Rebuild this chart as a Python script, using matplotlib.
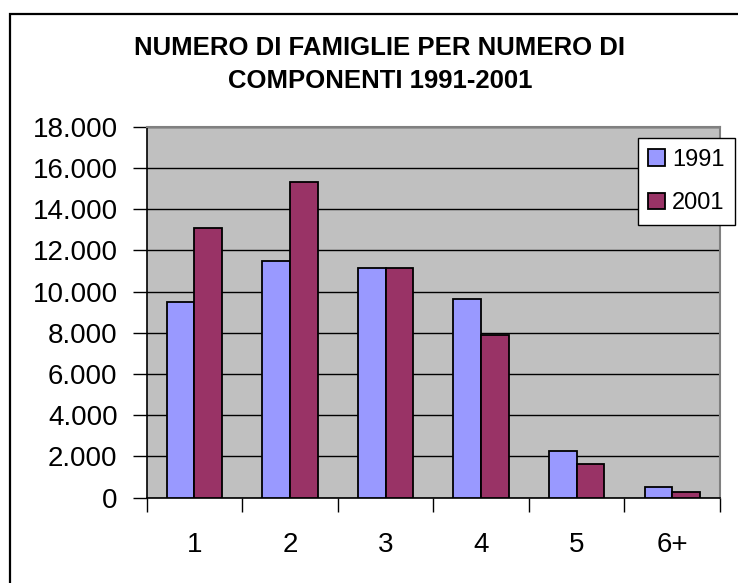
import matplotlib
matplotlib.use("Agg")
import matplotlib.pyplot as plt
import matplotlib.patches as mpatches
import numpy as np
from matplotlib.ticker import FuncFormatter, FixedLocator

categories = ["1", "2", "3", "4", "5", "6+"]
series_names = ["1991", "2001"]
values_1991 = [9500, 11500, 11130, 9660, 2280, 530]
values_2001 = [13080, 15310, 11130, 7910, 1620, 260]
y_ticks = [0, 2000, 4000, 6000, 8000, 10000, 12000, 14000, 16000, 18000]
title_lines = ["NUMERO DI FAMIGLIE PER NUMERO DI", "COMPONENTI 1991-2001"]

colors = ["#9999FF", "#993366"]

plt.rcParams['font.family'] = ['Liberation Sans', 'DejaVu Sans']

W, H = 738, 583
fig = plt.figure(figsize=(W / 100, H / 100), dpi=100)

def fx(px):
    return px / W

def fy(py):
    return 1 - py / H

left, right, top, bottom = 146.7, 720.0, 126.7, 497.7
ax = fig.add_axes([fx(left), fy(bottom), fx(right) - fx(left), (bottom - top) / H])
ax.set_facecolor("#C0C0C0")

x = np.arange(len(categories))
bw = 0.29
ax.bar(x - bw / 2, values_1991, width=bw, color=colors[0], edgecolor="black", linewidth=1.3, label=series_names[0], zorder=3)
ax.bar(x + bw / 2, values_2001, width=bw, color=colors[1], edgecolor="black", linewidth=1.3, label=series_names[1], zorder=3)

ax.set_xlim(-0.5, len(categories) - 0.5)
ax.set_ylim(0, 18000)
ax.set_yticks(y_ticks)
ax.yaxis.set_major_formatter(FuncFormatter(lambda v, p: f"{int(v):,}".replace(",", ".")))
ax.yaxis.grid(True, color="black", linewidth=1.0, zorder=1)
ax.set_axisbelow(True)

ax.xaxis.set_major_locator(FixedLocator(np.arange(len(categories) + 1) - 0.5))
ax.xaxis.set_major_formatter(FuncFormatter(lambda v, p: ""))
ax.xaxis.set_minor_locator(FixedLocator(x))
ax.set_xticks(x, minor=True)
ax.set_xticklabels(categories, minor=True)
ax.tick_params(axis="x", which="major", direction="out", length=10, width=1, color="black")
ax.tick_params(axis="x", which="minor", length=0, pad=25, labelsize=20)
ax.tick_params(axis="y", direction="out", length=10, width=1, pad=11, labelsize=20)

for s in ["top", "right"]:
    ax.spines[s].set_color("#808080")
    ax.spines[s].set_linewidth(1.5)
for s in ["left", "bottom"]:
    ax.spines[s].set_color("black")
    ax.spines[s].set_linewidth(1.2)

handles = [mpatches.Patch(facecolor=colors[i], edgecolor="black", linewidth=1.3, label=series_names[i]) for i in range(2)]
leg = ax.legend(handles=handles, loc="upper left",
                bbox_to_anchor=((637.7 - left) / (right - left), (bottom - 138.3) / (bottom - top)),
                fontsize=17, frameon=True, fancybox=False, borderpad=0.45,
                handlelength=0.7, handleheight=0.7, handletextpad=0.3,
                labelspacing=0.9, borderaxespad=0)
leg.get_frame().set_edgecolor("black")
leg.get_frame().set_linewidth(1.0)
leg.get_frame().set_facecolor("white")
leg.get_frame().set_alpha(1)
leg.set_zorder(5)
ax.set_clip_on(False)

fig.text(fx(380), fy(48), title_lines[0], ha="center", va="center", fontsize=18.5, fontweight="bold")
fig.text(fx(380), fy(81), title_lines[1], ha="center", va="center", fontsize=18.5, fontweight="bold")

border = mpatches.Rectangle((fx(10), -0.1), 1.2, fy(14) + 0.1, transform=fig.transFigure,
                            fill=False, edgecolor="black", linewidth=1.6, clip_on=False)
fig.patches.append(border)

fig.savefig("out.png", dpi=100)
